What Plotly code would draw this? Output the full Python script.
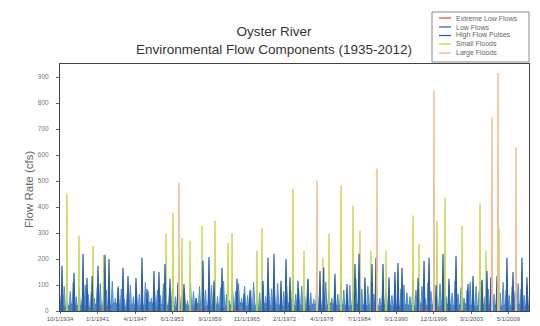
import plotly.graph_objects as go

# ---------------- data ----------------
# x positions in decimal years
tick_vals = [1934.75, 1941.0, 1947.25, 1953.42, 1959.67, 1965.83, 1972.08,
             1978.25, 1984.5, 1990.67, 1996.92, 2003.17, 2009.33]
tick_text = ["10/1/1934", "1/1/1941", "4/1/1947", "6/1/1953", "9/1/1959", "11/1/1965",
             "2/1/1972", "4/1/1978", "7/1/1984", "9/1/1990", "12/1/1996", "3/1/2003", "5/1/2009"]
y_ticks = [0, 100, 200, 300, 400, 500, 600, 700, 800, 900]

large_x = [1954.54, 1977.49, 1987.47, 1996.95, 2006.6, 2007.6, 2010.6]
large_y = [494, 502, 548, 849, 745, 915, 630]

small_x = [1935.91, 1937.91, 1940.24, 1942.0, 1952.38, 1953.54, 1955.04, 1956.37, 1958.37,
           1960.53, 1962.69, 1963.36, 1967.51, 1968.34, 1973.5, 1975.33, 1978.49, 1979.49,
           1981.48, 1983.48, 1984.64, 1986.47, 1988.97, 1993.46, 1994.46, 1997.45, 1998.78,
           2001.61, 2004.6, 2005.6, 2007.76]
small_y = [450, 290, 250, 215, 297, 378, 282, 270, 328, 347, 262, 300, 232, 320, 470, 232,
           205, 297, 483, 405, 309, 232, 232, 367, 259, 347, 436, 328, 413, 232, 320]

pulse_x = [1935.08, 1937.08, 1938.58, 1939.24, 1940.1, 1941.07, 1942.23, 1942.9, 1944.4,
           1945.23, 1946.06, 1947.39, 1948.39, 1949.22, 1950.38, 1951.21, 1952.21, 1953.04,
           1954.37, 1955.37, 1957.37, 1958.53, 1959.53, 1960.36, 1961.69, 1964.19, 1965.35,
           1966.35, 1968.51, 1969.34, 1970.34, 1971.5, 1972.34, 1973.0, 1974.33, 1975.99,
           1977.99, 1978.6, 1980.48, 1982.48, 1983.81, 1984.48, 1985.47, 1986.64, 1987.3,
           1988.47, 1989.46, 1990.46, 1990.96, 1991.63, 1994.29, 1995.29, 1996.12, 1997.3,
           1998.45, 1999.44, 2000.61, 2002.6, 2003.44, 2004.93, 2005.76, 2006.4, 2007.43,
           2009.09, 2010.09, 2011.58, 2012.41]
pulse_y = [174, 147, 220, 127, 135, 174, 216, 200, 89, 166, 135, 127, 205, 85, 154, 150,
           181, 124, 110, 104, 50, 193, 208, 116, 166, 124, 66, 80, 116, 205, 220, 116, 200,
           130, 116, 124, 154, 166, 143, 104, 181, 220, 130, 181, 205, 181, 130, 150, 185,
           166, 127, 193, 205, 100, 220, 124, 212, 104, 135, 116, 154, 130, 135, 205, 150,
           205, 130]

# minor high-flow pulses, one value per half year starting 10/1934
minor_start = 1934.95
minor_y = [60, 95, 40, 75, 110, 55, 85, 45, 100, 65, 70, 50, 90, 105, 40, 80,
           60, 115, 50, 95, 85, 45, 70, 100, 55, 90, 65, 40, 110, 75, 50, 95,
           80, 60, 105, 45, 70, 90, 55, 100, 65, 85, 40, 110, 75, 50, 95, 60,
           80, 45, 100, 70, 55, 90, 115, 65, 40, 85, 75, 105, 50, 95, 60, 80,
           110, 45, 70, 100, 55, 90, 85, 60, 105, 40, 75, 95, 50, 115, 65, 80,
           95, 55, 120, 70, 45, 100, 85, 60, 110, 75, 50, 90, 65, 105, 80, 55,
           100, 70, 125, 60, 85, 45, 95, 110, 65, 80, 50, 115, 75, 90, 60, 105,
           45, 85, 100, 70, 55, 120, 80, 65, 95, 50, 110, 75, 90, 60, 105, 85,
           55, 100, 70, 115, 65, 90, 50, 80, 110, 60, 95, 75, 120, 55, 85, 100,
           65, 90, 70, 110, 80, 60, 95, 75, 105, 85, 60, 95]

# low-flow band, one value per year starting 1935
low_start = 1934.8
low_y = [22, 15, 30, 18, 25, 12, 28, 20, 16, 32, 24, 14, 27, 19, 23, 35, 17, 26, 21, 13,
         29, 24, 18, 31, 16, 22, 27, 14, 25, 20, 33, 18, 23, 15, 28, 21, 26, 17, 30, 19,
         24, 13, 27, 22, 18, 32, 20, 25, 16, 29, 23, 19, 34, 17, 26, 21, 14, 28, 24, 18,
         31, 20, 25, 16, 27, 22, 19, 30, 23, 17, 26, 21, 28, 15, 24, 20, 29, 18, 22]

extreme_x = [1941.5, 1949.8, 1957.6, 1963.9, 1965.2, 1981.2, 1995.6, 2001.8, 2010.3]
extreme_y = [4, 3, 5, 6, 4, 3, 5, 4, 3]

# ---------------- styles ----------------
C_EXT = "#e0504a"
C_LOW = "#3f6f96"
C_PULSE = "#2c5fa8"
C_PULSE_MINOR = "#4f8ccc"
C_SMALL = "#bdd63c"
C_LARGE = "#efb98a"
FONT = "Arial, Liberation Sans, sans-serif"

def spikes(xs, ys, half=0.07, base=0):
    sx, sy = [], []
    for x, y in zip(xs, ys):
        sx += [x - half, x, x + half, None]
        sy += [base, y, base, None]
    return sx, sy

fig = go.Figure()

lx = [low_start + i for i in range(len(low_y))]
fig.add_trace(go.Scatter(x=lx, y=low_y, mode="lines", fill="tozeroy",
                         line=dict(color=C_LOW, width=0.8), fillcolor=C_LOW,
                         name="Low Flows"))

mx = [minor_start + 0.5 * i for i in range(len(minor_y))]
sx, sy = spikes(mx, minor_y, 0.22)
fig.add_trace(go.Scatter(x=sx, y=sy, mode="lines", fill="tozeroy",
                         fillcolor="rgba(79,140,204,0.75)",
                         line=dict(color=C_PULSE_MINOR, width=1),
                         showlegend=False, hoverinfo="skip"))

sx, sy = spikes(small_x, small_y, 0.05)
fig.add_trace(go.Scatter(x=sx, y=sy, mode="lines", line=dict(color=C_SMALL, width=1.3),
                         name="Small Floods"))

sx, sy = spikes(pulse_x, pulse_y, 0.14)
fig.add_trace(go.Scatter(x=sx, y=sy, mode="lines", fill="tozeroy", fillcolor=C_PULSE,
                         line=dict(color=C_PULSE, width=1.2),
                         name="High Flow Pulses"))

sx, sy = spikes(extreme_x, extreme_y, 0.2)
fig.add_trace(go.Scatter(x=sx, y=sy, mode="lines", line=dict(color=C_EXT, width=1.2),
                         name="Extreme Low Flows"))

sx, sy = spikes(large_x, large_y, 0.05)
fig.add_trace(go.Scatter(x=sx, y=sy, mode="lines", line=dict(color=C_LARGE, width=1.4),
                         name="Large Floods"))

# ---------------- layout ----------------
L, R, T, B = 60, 11, 64, 15
W, H = 540, 326
pw, ph = W - L - R, H - T - B

def px2x(px):
    return (px - L) / pw

def py2y(py):
    return (H - B - py) / ph

fig.update_layout(
    width=W, height=H,
    margin=dict(l=L, r=R, t=T, b=B, autoexpand=False),
    paper_bgcolor="white", plot_bgcolor="white",
    showlegend=False,
    font=dict(family=FONT, color="#555"),
    title=dict(text="Oyster River<br>Environmental Flow Components (1935-2012)",
               font=dict(family=FONT, size=13.5, color="#333"),
               x=274 / W, xanchor="center", xref="container",
               y=1 - 36 / H, yanchor="middle", yref="container"),
)
fig.update_xaxes(range=[1934.75, 2012.75], tickvals=tick_vals, ticktext=tick_text,
                 tickfont=dict(size=6, color="#555"), ticks="outside", ticklen=2,
                 tickcolor="#666", showgrid=False, zeroline=False,
                 showline=True, linecolor="#444", linewidth=1, mirror=True,
                 automargin=False)
fig.update_yaxes(range=[0, 950], tickvals=y_ticks, tickfont=dict(size=6.5, color="#777"),
                 ticks="outside", ticklen=3, tickcolor="#666", showgrid=False,
                 ticklabelstandoff=6,
                 zeroline=False, showline=True, linecolor="#444", linewidth=1,
                 mirror=True, automargin=False)

fig.add_annotation(text="Flow Rate (cfs)", textangle=-90, showarrow=False,
                   xref="paper", yref="paper", x=px2x(29), y=py2y(190),
                   xanchor="center", yanchor="middle",
                   font=dict(family=FONT, size=11.5, color="#666"))

# custom compact legend
fig.add_shape(type="rect", xref="paper", yref="paper",
              x0=px2x(432), x1=px2x(529), y0=py2y(62), y1=py2y(12),
              line=dict(color="#888", width=1), fillcolor="white")
leg_items = [("Extreme Low Flows", C_EXT), ("Low Flows", C_LOW),
             ("High Flow Pulses", C_PULSE), ("Small Floods", C_SMALL),
             ("Large Floods", C_LARGE)]
leg_rows = [18, 27, 35.5, 44, 53]
for (name, col), ry in zip(leg_items, leg_rows):
    fig.add_shape(type="line", xref="paper", yref="paper",
                  x0=px2x(439), x1=px2x(451), y0=py2y(ry), y1=py2y(ry),
                  line=dict(color=col, width=1.3))
    fig.add_annotation(text=name, showarrow=False, xref="paper", yref="paper",
                       x=px2x(454), y=py2y(ry), xanchor="left", yanchor="middle",
                       font=dict(family=FONT, size=7, color="#666"))

fig.write_html("out.html")
